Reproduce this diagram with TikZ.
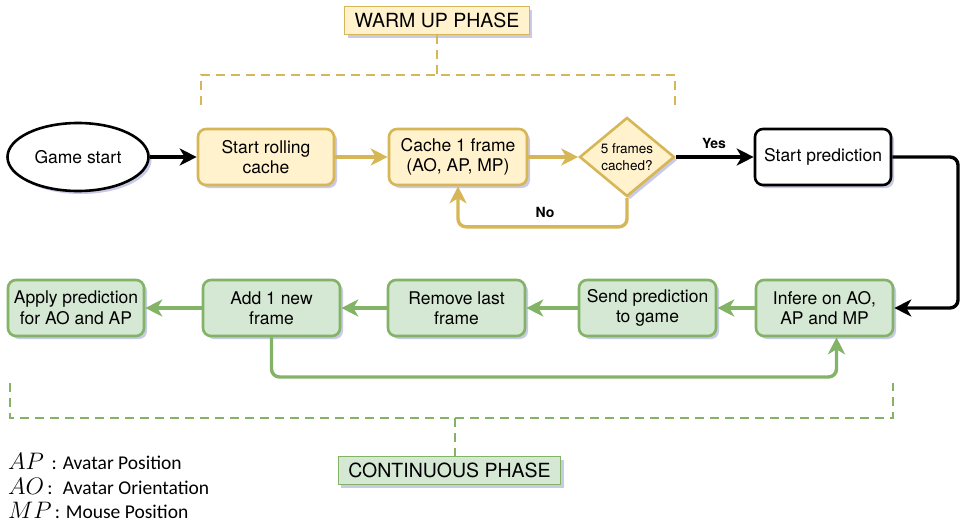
\documentclass[tikz,border=0pt]{standalone}
\usepackage{fontspec}
\setmainfont{TeX Gyre Heros}
\newfontfamily\legendfont{Carlito}
\usetikzlibrary{shapes.geometric,arrows.meta,shadows}
\definecolor{ylfill}{HTML}{FFF2CC}
\definecolor{ylline}{HTML}{D6B656}
\definecolor{grfill}{HTML}{D5E8D4}
\definecolor{grline}{HTML}{82B366}
\newcommand{\lgm}[1]{\scalebox{1.15}{$#1$}}
\tikzset{
  shd/.style={drop shadow={opacity=0.3,shadow xshift=3pt,shadow yshift=-3pt,fill=gray!60!blue}},
  box/.style={rectangle,rounded corners=8pt,line width=2.6pt,minimum width=136pt,minimum height=56pt,align=center,font=\fontsize{17.5}{20.5}\selectfont,shd},
  ybox/.style={box,draw=ylline,fill=ylfill},
  gbox/.style={box,draw=grline,fill=grfill},
  wbox/.style={box,draw=black,fill=white},
  conn/.style={line width=3.4pt,rounded corners=8pt,-{Stealth[length=17pt,width=17pt,inset=5pt]}},
  yconn/.style={conn,draw=ylline},
  gconn/.style={conn,draw=grline},
  bconn/.style={conn,draw=black},
  phase/.style={rectangle,line width=1.4pt,minimum height=28pt,inner xsep=10pt,font=\fontsize{19.5}{22}\selectfont,shd},
  ybrace/.style={draw=ylline,line width=2.4pt,dash pattern=on 9pt off 6pt},
  gbrace/.style={draw=grline,line width=2.4pt,dash pattern=on 9pt off 6pt},
  lbl/.style={font=\bfseries\fontsize{14}{16}\selectfont},
  legend/.style={anchor=west,font=\legendfont\fontsize{19.5}{22}\selectfont,inner sep=0pt}
}
\begin{document}
\begin{tikzpicture}[x=1pt,y=-1pt]
\useasboundingbox (0,0) rectangle (964,525);
% Row 1
\node[ellipse,draw=black,fill=white,line width=2.6pt,minimum width=141pt,minimum height=68pt,font=\fontsize{17.5}{20.5}\selectfont,shd] (gs) at (78,157) {Game start};
\node[ybox] (roll) at (266,157) {Start rolling\\cache};
\node[ybox,minimum width=138pt] (cache) at (458,157) {Cache 1 frame\\(AO, AP, MP)};
\node[diamond,draw=ylline,fill=ylfill,line width=2.6pt,minimum width=95pt,minimum height=77pt,inner sep=0pt,align=center,font=\fontsize{13.5}{16.5}\selectfont,shd] (dec) at (627,157) {5 frames\\cached?};
\node[wbox] (sp) at (823,157) {Start prediction};
% Row 2
\node[gbox,minimum width=137pt] (inf) at (824.5,308) {Infere on AO,\\AP and MP};
\node[gbox,minimum width=137pt] (send) at (647.5,308) {Send prediction\\to game};
\node[gbox,minimum width=137pt] (rem) at (456.5,308) {Remove last\\frame};
\node[gbox,minimum width=137pt] (add) at (271.5,308) {Add 1 new\\frame};
\node[gbox] (apply) at (76,308) {Apply prediction\\for AO and AP};
% Connectors row 1
\draw[bconn] (gs) -- (roll);
\draw[yconn] (roll) -- (cache);
\draw[yconn] (cache) -- (dec);
\draw[bconn] (dec) -- (sp);
\node[lbl] (yes) at (714,143) {Yes};
\draw[yconn] (dec.south) -- ++(0,29) -| (cache.south);
\node[lbl] (no) at (545,212) {No};
\draw[bconn] (sp.east) -- (958,157) |- (inf.east);
% Connectors row 2
\draw[gconn] (inf) -- (send);
\draw[gconn] (send) -- (rem);
\draw[gconn] (rem) -- (add);
\draw[gconn] (add) -- (apply);
\draw[gconn] (add.south) -- (271.5,377) -| ([xshift=12pt]inf.south);
% Warm up bracket
\node[phase,draw=ylline,fill=ylfill] (warm) at (437,20.5) {WARM UP PHASE};
\draw[ybrace] (201,105) -- (201,75) -- (675,75) -- (675,110);
\draw[ybrace] (warm.south) -- (437,75);
% Continuous bracket
\node[phase,draw=grline,fill=grfill] (cont) at (449.5,470.5) {CONTINUOUS PHASE};
\draw[gbrace] (10,383) -- (10,418) -- (893,418) -- (893,383);
\draw[gbrace] (455,418) -- (455,456);
% Legend
\node[legend] (l1) at (8,461) {\lgm{AP}\ \,: Avatar Position};
\node[legend] (l2) at (8,486) {\lgm{AO}\,: \ Avatar Orientation};
\node[legend] (l3) at (8,510) {\lgm{MP}\,: Mouse Position};
\end{tikzpicture}
\end{document}
